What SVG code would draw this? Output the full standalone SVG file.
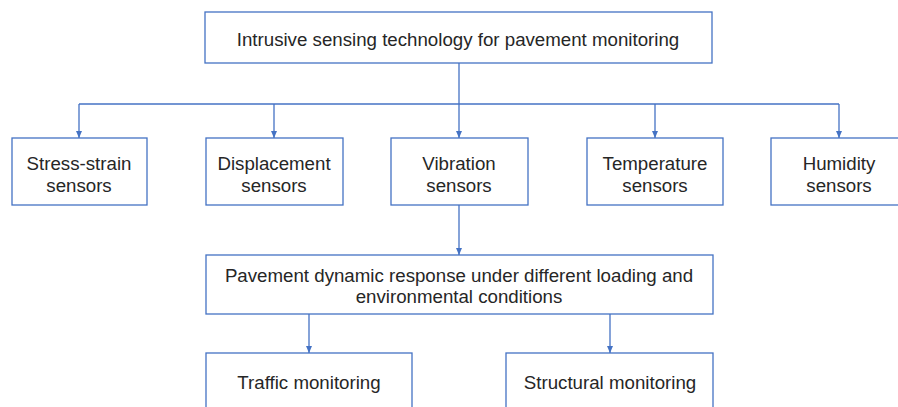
<svg xmlns="http://www.w3.org/2000/svg" width="898" height="407" viewBox="0 0 898 407">
<style>
.box{fill:#fff;stroke:#4472C4;stroke-width:1.3}
.t{font-family:"Liberation Sans",Arial,sans-serif;font-size:18.7px;fill:#262626;text-anchor:middle}
.c{fill:none;stroke:#4472C4;stroke-width:1.3}
</style>
<defs>
<marker id="a" markerWidth="8" markerHeight="6" refX="7" refY="3" orient="auto" markerUnits="userSpaceOnUse">
<path d="M0,0 L7,3 L0,6 z" fill="#4472C4"/>
</marker>
</defs>
<rect width="898" height="407" fill="#fff"/>
<g id="connectors">
<path class="c" d="M459,63 V104"/>
<path class="c" d="M79,104 H839"/>
<path class="c" d="M79,104 V138" marker-end="url(#a)"/>
<path class="c" d="M274,104 V138" marker-end="url(#a)"/>
<path class="c" d="M459,104 V138" marker-end="url(#a)"/>
<path class="c" d="M655,104 V138" marker-end="url(#a)"/>
<path class="c" d="M839,104 V138" marker-end="url(#a)"/>
<path class="c" d="M459,205 V255" marker-end="url(#a)"/>
<path class="c" d="M309,314 V353" marker-end="url(#a)"/>
<path class="c" d="M610,314 V353" marker-end="url(#a)"/>
</g>
<g id="top"><rect class="box" x="205" y="12" width="507" height="51"/><text class="t" x="458" y="46">Intrusive sensing technology for pavement monitoring</text></g>
<g id="stress"><rect class="box" x="12" y="138" width="135" height="67"/><text class="t" x="79" y="170">Stress-strain</text><text class="t" x="79" y="192">sensors</text></g>
<g id="displacement"><rect class="box" x="206" y="138" width="137" height="67"/><text class="t" x="274" y="170">Displacement</text><text class="t" x="274" y="192">sensors</text></g>
<g id="vibration"><rect class="box" x="391" y="138" width="137" height="67"/><text class="t" x="459" y="170">Vibration</text><text class="t" x="459" y="192">sensors</text></g>
<g id="temperature"><rect class="box" x="587" y="138" width="136" height="67"/><text class="t" x="655" y="170">Temperature</text><text class="t" x="655" y="192">sensors</text></g>
<g id="humidity"><rect class="box" x="771" y="138" width="137" height="67"/><text class="t" x="839" y="170">Humidity</text><text class="t" x="839" y="192">sensors</text></g>
<g id="pavement"><rect class="box" x="206" y="255" width="507" height="59"/><text class="t" x="459" y="282">Pavement dynamic response under different loading and</text><text class="t" x="459" y="303">environmental conditions</text></g>
<g id="traffic"><rect class="box" x="206" y="353" width="206" height="60"/><text class="t" x="309" y="389">Traffic monitoring</text></g>
<g id="structural"><rect class="box" x="506" y="353" width="207" height="60"/><text class="t" x="610" y="389">Structural monitoring</text></g>
</svg>
